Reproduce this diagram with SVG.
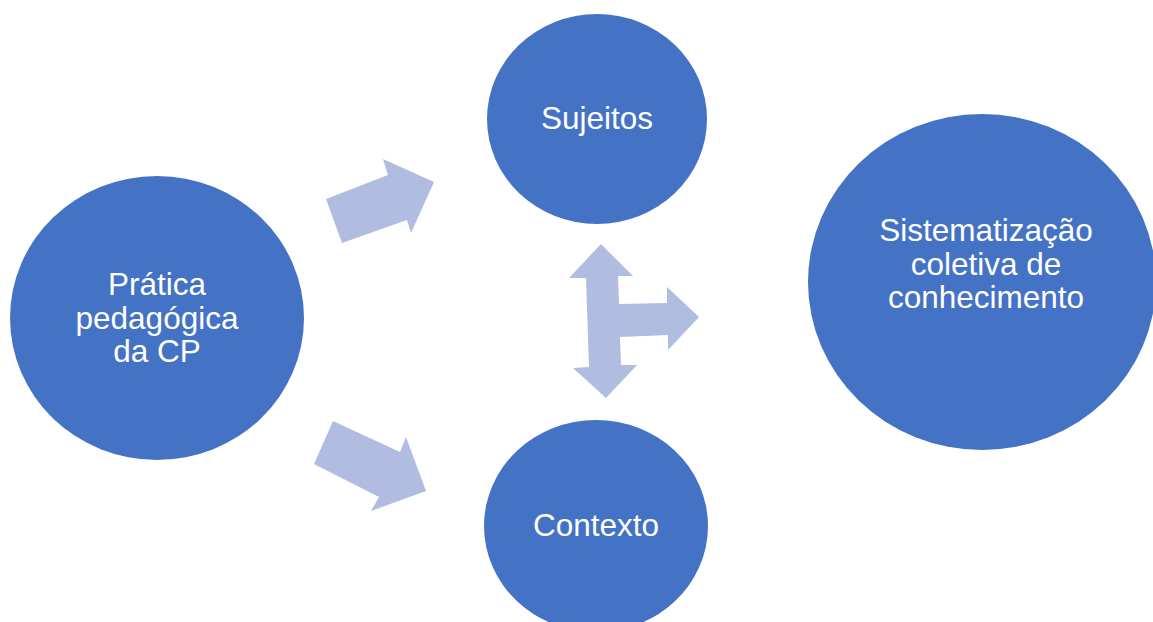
<svg xmlns="http://www.w3.org/2000/svg" width="1153" height="622" viewBox="0 0 1153 622">
<style>
.node{fill:#4472C4}
.arrow{fill:#B0BDE0}
.lbl{fill:#ffffff;font-family:"Liberation Sans",Arial,sans-serif;font-size:31.5px;text-anchor:middle}
</style>
<rect width="1153" height="622" fill="#ffffff"/>
<g id="connectors">
<polygon class="arrow" points="342,243 326,199 388,175 383,159 434,182 411,233 407,220"/>
<polygon class="arrow" points="333,421 400,452 406,437 426,491 371,511 379,497 314,464"/>
<polygon class="arrow" points="601,244 633,276 618,276 619,304 667,303 667,287 699,317 668,350 668,335 620,337 621,365 637,365 606,398 573,368 589,367 586,278 569,278"/>
</g>
<g id="node-pratica">
<ellipse class="node" cx="157" cy="318" rx="147" ry="142"/>
<text class="lbl" x="157" y="295">Prática</text>
<text class="lbl" x="157" y="329">pedagógica</text>
<text class="lbl" x="157" y="362">da CP</text>
</g>
<g id="node-sujeitos">
<ellipse class="node" cx="597" cy="119" rx="110" ry="105"/>
<text class="lbl" x="597" y="129">Sujeitos</text>
</g>
<g id="node-contexto">
<ellipse class="node" cx="596" cy="526" rx="112" ry="106"/>
<text class="lbl" x="596" y="536">Contexto</text>
</g>
<g id="node-sistematizacao">
<ellipse class="node" cx="982" cy="282" rx="174" ry="168"/>
<text class="lbl" x="986" y="241">Sistematização</text>
<text class="lbl" x="986" y="275">coletiva de</text>
<text class="lbl" x="986" y="308">conhecimento</text>
</g>
</svg>
